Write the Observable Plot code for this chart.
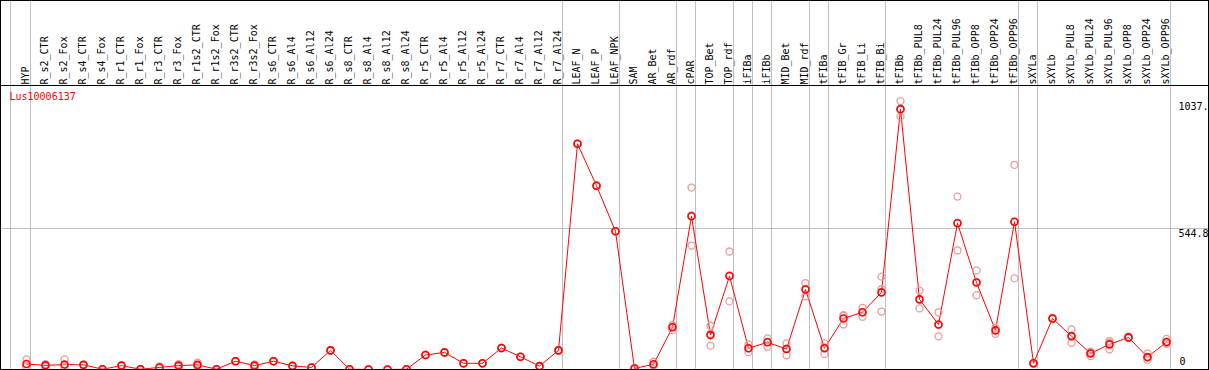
<!DOCTYPE html>
<html>
<head>
<meta charset="utf-8">
<script src="https://cdn.jsdelivr.net/npm/d3@7"></script>
<script src="https://cdn.jsdelivr.net/npm/@observablehq/plot@0.6"></script>
<style>
  html, body { margin: 0; padding: 0; background: #fff; }
  #chart { width: 1209px; border: 1px solid #000; border-bottom: none; box-sizing: border-box; background: #fff; }
  #chart svg { display: block; }
  .sep { height: 1px; background: #000; }
</style>
</head>
<body>
<div id="chart"></div>
<script>
const categories = ["HYP","R_s2_CTR","R_s2_Fox","R_s4_CTR","R_s4_Fox","R_r1_CTR","R_r1_Fox","R_r3_CTR","R_r3_Fox",
  "R_r1s2_CTR","R_r1s2_Fox","R_r3s2_CTR","R_r3s2_Fox","R_s6_CTR","R_s6_Al4","R_s6_Al12","R_s6_Al24",
  "R_s8_CTR","R_s8_Al4","R_s8_Al12","R_s8_Al24","R_r5_CTR","R_r5_Al4","R_r5_Al12","R_r5_Al24",
  "R_r7_CTR","R_r7_Al4","R_r7_Al12","R_r7_Al24","LEAF_N","LEAF_P","LEAF_NPK","SAM","AR_Bet","AR_rdf",
  "cPAR","TOP_Bet","TOP_rdf","iFIBa","iFIBb","MID_Bet","MID_rdf","tFIBa","tFIB_Gr","tFIB_Li","tFIB_Bi",
  "tFIBb","tFIBb_PUL8","tFIBb_PUL24","tFIBb_PUL96","tFIBb_OPP8","tFIBb_OPP24","tFIBb_OPP96",
  "sXYLa","sXYLb","sXYLb_PUL8","sXYLb_PUL24","sXYLb_PUL96","sXYLb_OPP8","sXYLb_OPP24","sXYLb_OPP96"];

const means = [21,16,19,18,1,15,1,8,15,18,1,32,15,32,14,8,74,1,0,0,1,56,66,24,24,83,49,13,74,
  872,710,534,4,20,163,592,133,361,82,105,79,309,82,197,221,298,
  1006,271,174,565,336,151,571,24,197,129,62,97,124,48,106];

const rep1 = [39,21,39,19,1,16,1,12,21,26,1,33,20,33,15,9,75,1,0,0,1,57,67,25,25,84,50,14,75,
  873,711,535,5,30,172,703,169,456,97,120,101,334,101,210,238,359,
  1037,305,221,668,383,161,791,26,199,155,69,110,127,62,118];
const rep2 = [13,14,10,18,1,15,1,6,12,14,1,32,13,32,14,8,74,1,0,0,1,56,66,24,24,83,49,13,74,
  872,710,534,4,17,165,595,138,364,82,107,81,310,85,207,221,310,
  1004,272,173,567,338,154,570,24,197,130,66,104,124,46,101];
const rep3 = [11,13,8,17,1,14,1,6,12,14,1,31,12,31,13,7,73,1,0,0,1,55,65,23,23,82,48,12,73,
  871,709,533,3,13,152,479,92,263,67,88,55,283,60,174,204,224,
  977,236,128,460,287,138,352,22,195,103,52,78,122,37,99];

const groupEnds = ["HYP","R_r7_Al24","LEAF_NPK","AR_rdf","cPAR","TOP_rdf","iFIBa","iFIBb","MID_rdf",
  "tFIBa","tFIB_Bi","tFIBb_OPP96","sXYLa","sXYLb_OPP96"];

const yTicks = [0, 544.8, 1037];
const yTickLabels = ["0", "544.8", "1037."];
const yMax = 1089.6;
const geneLabel = "Lus10006137";

const meanData = categories.map((c, i) => ({cat: c, value: means[i]}));
const repData = categories.flatMap((c, i) => [rep1[i], rep2[i], rep3[i]].map(v => ({cat: c, value: v})));

const FONT = "'DejaVu Sans Mono', monospace";
const GRID = "#c0c0c0";
const xScale = {type: "point", domain: categories, range: [25, 1165], padding: 0, axis: null};

const header = Plot.plot({
  width: 1207, height: 84, margin: 0,
  x: xScale,
  style: {fontFamily: FONT, fontSize: "10px", background: "white"},
  marks: [
    Plot.ruleX(groupEnds, {x: d => d, dx: 4, stroke: GRID}),
    Plot.ruleX([categories[0]], {x: d => d, dx: -16, stroke: GRID}),
    Plot.text(categories, {x: d => d, text: d => d, frameAnchor: "bottom", rotate: -90,
      textAnchor: "start", lineAnchor: "bottom", dx: 2, dy: -1, fill: "black", fontSize: 10})
  ]
});

const main = Plot.plot({
  width: 1207, height: 284, margin: 0,
  x: xScale,
  y: {domain: [0, yMax], range: [283, 1], axis: null},
  style: {fontFamily: FONT, fontSize: "10px", background: "white", overflow: "hidden"},
  marks: [
    Plot.ruleX(groupEnds, {x: d => d, dx: 4, stroke: GRID}),
    Plot.ruleX([categories[0]], {x: d => d, dx: -16, stroke: GRID}),
    Plot.ruleY([yTicks[1]], {stroke: GRID}),
    Plot.line(meanData, {x: "cat", y: "value", stroke: "#ff0000", strokeWidth: 1}),
    Plot.dot(repData, {x: "cat", y: "value", r: 3.5, stroke: "#eb9a9a", strokeWidth: 1.3}),
    Plot.dot(meanData, {x: "cat", y: "value", r: 3.5, stroke: "#ff0000", strokeWidth: 1.6}),
    Plot.ruleY([0], {stroke: "black"}),
    Plot.text([geneLabel], {frameAnchor: "top-left", text: d => d, dx: 8, dy: 6,
      lineAnchor: "top", textAnchor: "start", fill: "#ff0000", fontSize: 10}),
    Plot.text(yTicks.slice(1), {y: d => d, text: d => yTickLabels[yTicks.indexOf(d)],
      frameAnchor: "right", dx: -30, dy: 1.5, textAnchor: "start", lineAnchor: "top", fill: "black", fontSize: 10}),
    Plot.text([yTicks[0]], {y: d => d, text: d => yTickLabels[yTicks.indexOf(d)],
      frameAnchor: "right", dx: -29, dy: -4.5, textAnchor: "start", lineAnchor: "bottom", fill: "black", fontSize: 10})
  ]
});

const chart = document.getElementById("chart");
chart.appendChild(header);
const sep = document.createElement("div");
sep.className = "sep";
chart.appendChild(sep);
chart.appendChild(main);
</script>
</body>
</html>
